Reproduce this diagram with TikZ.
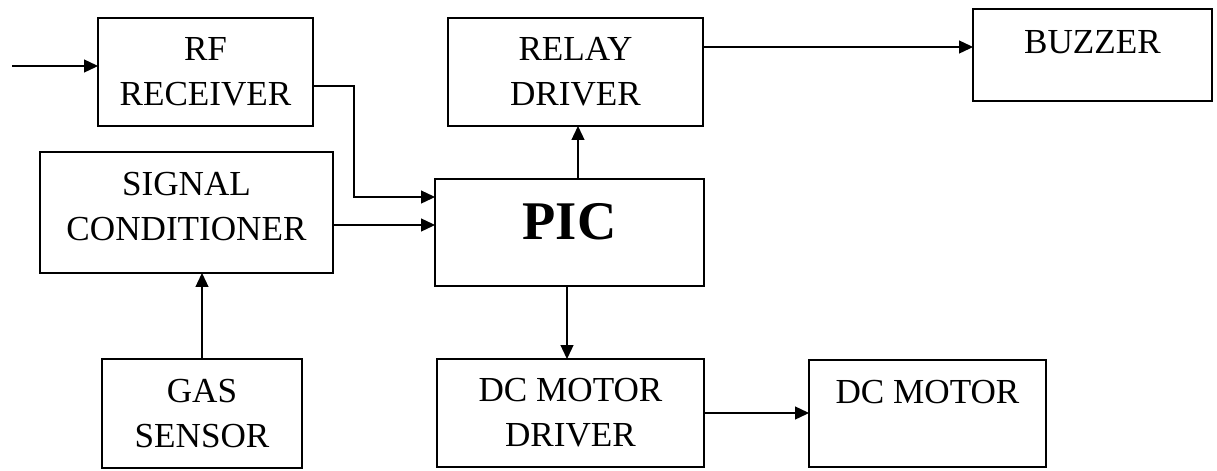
\documentclass[tikz,border=0pt]{standalone}
\usepackage{fontspec}
\setmainfont{Liberation Serif}
\usetikzlibrary{arrows.meta}

\tikzset{
  blk/.style={rectangle, draw, line width=0.8pt, inner sep=0pt, outer sep=0pt, align=center,
    font=\fontsize{20pt}{25.5pt}\selectfont},
  arr/.style={line width=0.7pt, -{Triangle[length=0.28cm,width=0.26cm]}}
}

\begin{document}
\begin{tikzpicture}[x=0.02cm, y=-0.02cm]
\useasboundingbox (0,0) rectangle (1217,470);
% blocks
\node[blk, minimum width=4.3cm, minimum height=2.16cm] (rf) at (205.5,72) {RF\\RECEIVER};
\node[blk, minimum width=5.1cm, minimum height=2.16cm] (relay) at (575.5,72) {RELAY\\DRIVER};
\node[blk, minimum width=4.78cm, minimum height=1.84cm, text depth=0.52cm] (buzz) at (1092.5,55) {BUZZER};
\node[blk, minimum width=5.86cm, minimum height=2.42cm, text depth=0.24cm] (sig) at (186.5,212.5) {SIGNAL\\CONDITIONER};
\node[blk, minimum width=5.38cm, minimum height=2.14cm, text depth=0.46cm,
  font=\fontsize{31pt}{36pt}\selectfont\bfseries] (pic) at (569.5,232.5) {PIC};
\node[blk, minimum width=4cm, minimum height=2.18cm] (gas) at (202,413.5) {GAS\\SENSOR};
\node[blk, minimum width=5.34cm, minimum height=2.16cm] (mdrv) at (570.5,413) {DC MOTOR\\DRIVER};
\node[blk, minimum width=4.74cm, minimum height=2.14cm, text depth=0.86cm] (motor) at (927.5,413.5) {DC MOTOR};

% connections
\coordinate (ant) at (12,66);
\draw[arr] (ant) -- (ant -| rf.west);
\draw[arr] ([yshift=-0.28cm]rf.east) -- ++(41,0) |- ([yshift=0.71cm]pic.west);
\draw[arr] ([yshift=-0.25cm]sig.east) -- ([yshift=-0.25cm]sig.east -| pic.west);
\draw[arr] (gas.north) -- (gas.north |- sig.south);
\draw[arr] ([xshift=0.17cm]pic.north) -- ([xshift=0.17cm]pic.north |- relay.south);
\draw[arr] ([yshift=0.5cm]relay.east) -- ([yshift=0.5cm]relay.east -| buzz.west);
\draw[arr] ([xshift=-0.05cm]pic.south) -- ([xshift=-0.05cm]pic.south |- mdrv.north);
\draw[arr] (mdrv.east) -- (mdrv.east -| motor.west);
\end{tikzpicture}
\end{document}
